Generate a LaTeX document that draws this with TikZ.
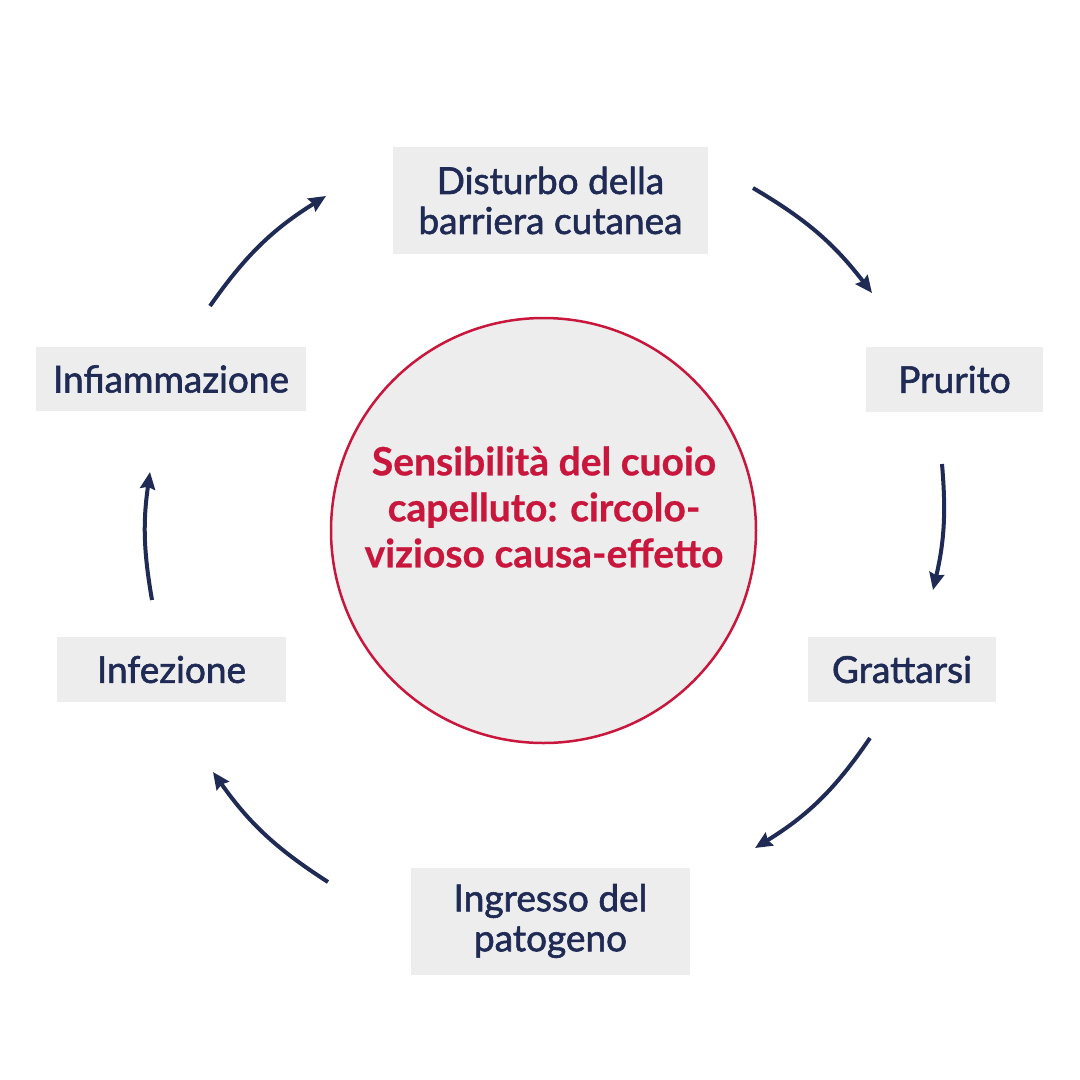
\documentclass[tikz,border=0pt]{standalone}
\usepackage{fontspec}
\setmainfont{Lato}
\newfontfamily\boxfont{Lato}[BoldFont=Lato, BoldFeatures={FakeBold=1.6}]
\newfontfamily\corefont{Lato}[BoldFeatures={FakeBold=0.6}]
\usetikzlibrary{arrows.meta}
\definecolor{navy}{HTML}{1F2A55}
\definecolor{crim}{HTML}{C8163C}
\definecolor{boxgray}{HTML}{EDEDED}
\tikzset{
  stagebox/.style={fill=boxgray, draw=none, text=navy, align=center, inner sep=0pt,
    font=\boxfont\bfseries\fontsize{37}{40}\selectfont},
  cyclearrow/.style={draw=navy, line width=4pt, -{Stealth[length=17pt,width=15pt,inset=2pt]}},
}
\begin{document}
\begin{tikzpicture}[x=1pt,y=-1pt]
\useasboundingbox[fill=white] (0,0) rectangle (1080,1080);
\node[circle, fill=boxgray, draw=crim, line width=2.5pt, minimum size=425pt, inner sep=0pt] (core) at (543.5,530.5) {};
\node[text=crim, align=center, inner sep=0pt, font=\corefont\bfseries\fontsize{39}{46}\selectfont] (coretitle) at (544,507)
  {Sensibilità del cuoio\\capelluto: circolo-\\vizioso causa-effetto};
\node[stagebox, minimum width=315pt, minimum height=107pt] (dist) at (550.5,200.5) {Disturbo della\\barriera cutanea};
\node[stagebox, minimum width=177pt, minimum height=65pt] (prur) at (954.5,379.5) {Prurito};
\node[stagebox, minimum width=188pt, minimum height=65pt] (gratt) at (902,669.5) {Grattarsi};
\node[stagebox, minimum width=279pt, minimum height=107pt] (ingr) at (550.5,921) {Ingresso del\\patogeno};
\node[stagebox, minimum width=229pt, minimum height=65pt] (infez) at (171.5,669.5) {Infezione};
\node[stagebox, minimum width=270pt, minimum height=64pt] (infia) at (171,379) {Infiammazione};
\coordinate (a1s) at (753,188); \coordinate (a1e) at (872,293);
\coordinate (a2s) at (942,464); \coordinate (a2e) at (933,590);
\coordinate (a3s) at (870,738); \coordinate (a3e) at (755,848);
\coordinate (a4s) at (328,882); \coordinate (a4e) at (213,772);
\coordinate (a5s) at (152,600); \coordinate (a5e) at (150,472);
\coordinate (a6s) at (210,306); \coordinate (a6e) at (326,196);
\draw[cyclearrow] (a1s) to[bend left=11] (a1e);
\draw[cyclearrow] (a2s) to[bend left=9] (a2e);
\draw[cyclearrow] (a3s) to[bend left=12] (a3e);
\draw[cyclearrow] (a4s) to[bend left=11] (a4e);
\draw[cyclearrow] (a5s) to[bend left=9] (a5e);
\draw[cyclearrow] (a6s) to[bend left=11.5] (a6e);
\end{tikzpicture}
\end{document}
